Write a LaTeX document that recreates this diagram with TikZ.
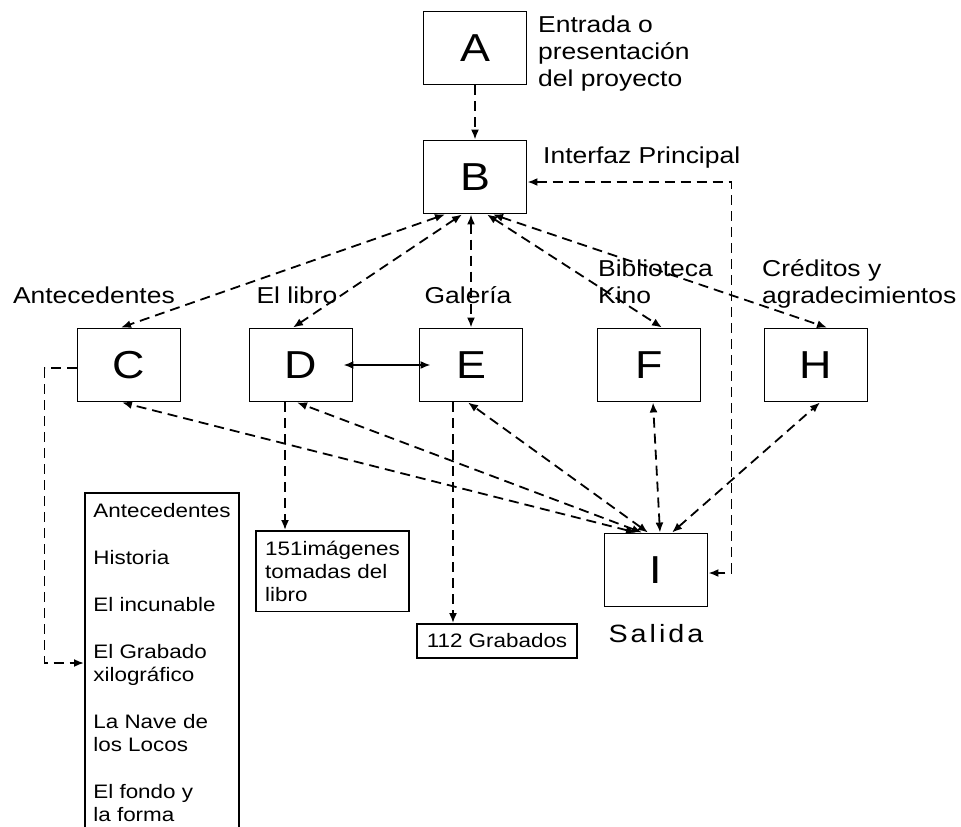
\documentclass[tikz,border=0pt]{standalone}
\usepackage{fontspec}
\setmainfont{Liberation Sans}[FakeStretch=1.15]
\usetikzlibrary{arrows.meta}

\begin{document}
\begin{tikzpicture}[x=1pt, y=-1pt,
	box/.style={draw, line width=1.9pt, minimum width=103pt, minimum height=73pt, inner sep=0pt, font=\fontsize{39}{40}\selectfont},
	tag/.style={inner sep=0pt, align=left, font=\fontsize{23}{27}\selectfont},
	note/.style={draw, line width=1.9pt, align=left, inner sep=0pt, font=\fontsize{19.5}{23}\selectfont},
	link/.style={line width=1.8pt, dash pattern=on 10pt off 6pt, -{Latex[length=10pt,width=8pt]}},
	twoway/.style={link, {Latex[length=10pt,width=8pt]}-{Latex[length=10pt,width=8pt]}}]

	% Page frame
	\useasboundingbox (0,0) rectangle (961,827);
	\clip (0,0) rectangle (961,827);

	% Draw screens
	\node[box] (A) at (475,48) {A};
	\node[box] (B) at (475,177) {B};
	\node[box] (C) at (129,365) {C};
	\node[box] (D) at (301,365) {D};
	\node[box] (E) at (471,365) {E};
	\node[box] (F) at (649,365) {F};
	\node[box] (H) at (816,365) {H};
	\node[box] (I) at (656,570) {I};

	% Screen names
	\node[tag, anchor=north west] (nameA) at (538,16) {Entrada o\\presentación\\del proyecto};
	\node[tag, anchor=base west] (nameB) at (543,163) {Interfaz Principal};
	\node[tag, anchor=base east] (nameC) at (175,303) {Antecedentes};
	\node[tag, anchor=base] (nameD) at (297,303) {El libro};
	\node[tag, anchor=base] (nameE) at (468,303) {Galería};
	\node[tag, anchor=north west] (nameF) at (598,260) {Biblioteca\\Kino};
	\node[tag, anchor=north west] (nameH) at (762,259) {Créditos y\\agradecimientos};
	\node[tag, anchor=base, font=\fontsize{25}{27}\selectfont] (nameI) at (656,642)
		{S\hspace{3pt}a\hspace{3pt}l\hspace{3pt}i\hspace{3pt}d\hspace{3pt}a};

	% Contents
	\node[note, anchor=north west, minimum width=154pt, inner ysep=10pt] (topics) at (84,492)
		{Antecedentes\\[24pt]Historia\\[24pt]El incunable\\[24pt]El Grabado\\xilográfico\\[24pt]La Nave de\\los Locos\\[24pt]El fondo y\\la forma};
	\node[note, anchor=north west, minimum width=153pt, inner ysep=10pt] (book) at (255,530)
		{151imágenes\\tomadas del\\libro};
	\node[note, minimum width=160pt, minimum height=34pt] (prints) at (497,641) {112 Grabados};

	% Draw links
	\draw[link] (A) -- (B);
	\draw[twoway] ([xshift=-30pt]B.south) -- ([xshift=-8pt]C.north);
	\draw[twoway] ([xshift=-13pt]B.south) -- ([xshift=-8pt]D.north);
	\draw[twoway] ([xshift=-4pt]B.south) -- (E.north);
	\draw[twoway] ([xshift=12pt]B.south) -- ([xshift=13pt]F.north);
	\draw[twoway] ([xshift=18pt]B.south) -- ([xshift=11pt]H.north);
	\draw[{Latex[length=10pt,width=8pt]}-{Latex[length=10pt,width=8pt]}, line width=1.8pt]
		([xshift=-10pt]D.east) -- ([xshift=12pt]E.west);

	\draw[twoway] ([xshift=-20pt]I.north) -- ([xshift=-7pt]C.south);
	\draw[twoway] ([xshift=-14pt]I.north) -- ([xshift=-4pt]D.south);
	\draw[twoway] ([xshift=-8pt]I.north) -- ([xshift=-3pt]E.south);
	\draw[twoway] ([xshift=4pt]I.north) -- ([xshift=4pt]F.south);
	\draw[twoway] ([xshift=16pt]I.north) -- ([xshift=4pt]H.south);
	\draw[twoway] ([yshift=-5pt]B.east) -- ++(204,0) |- ([yshift=-3pt]I.east);

	\draw[link] ([yshift=-3pt]C.west) -- ++(-32,0) |- ([yshift=-171pt]topics.north west);
	\draw[link] ([xshift=-16pt]D.south) -- ([xshift=-16pt]D.south |- book.north);
	\draw[link] ([xshift=-18pt]E.south) -- ([xshift=-18pt]E.south |- prints.north);
\end{tikzpicture}
\end{document}
